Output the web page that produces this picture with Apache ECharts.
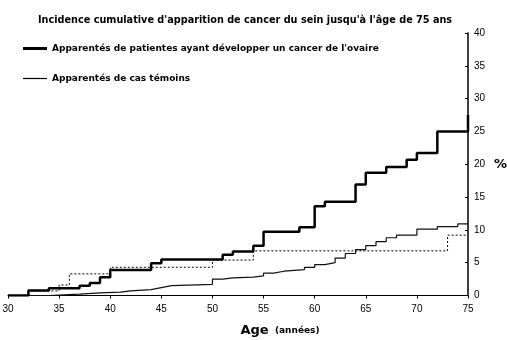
<!DOCTYPE html>
<html>
<head>
<meta charset="utf-8">
<script src="https://cdn.jsdelivr.net/npm/echarts@6/dist/echarts.min.js"></script>
<style>html,body{margin:0;padding:0;background:#fff;}#c{width:507px;height:340px;}</style>
</head>
<body>
<div id="c"></div>
<script>
var titleText = "Incidence cumulative d'apparition de cancer du sein jusqu'à l'âge de 75 ans";
var seriesNames = ["Apparentés de patientes ayant développer un cancer de l'ovaire", "Apparentés de cas témoins", "Référence"];
var xTicks = [30, 35, 40, 45, 50, 55, 60, 65, 70, 75];
var yTicks = [0, 5, 10, 15, 20, 25, 30, 35, 40];
// [age, cumulative incidence % from that age]
var ovaryRelatives = [[30,0],[32,0.75],[34,1.1],[37,1.5],[38,1.9],[39,2.8],[40,3.9],[44,4.9],[45,5.5],[51,6.2],[52,6.7],[54,7.6],[55,9.7],[58.5,10.4],[60,13.6],[61,14.3],[64,16.9],[65,18.7],[67,19.6],[69,20.7],[70,21.7],[72,25],[75,25],[75,27.5]];
var controlRelatives = [[30,0],[34,0.2],[37,0.4],[39,0.5],[41,0.7],[42,0.9],[44,1.2],[45,1.5],[46,1.7],[50,2.5],[51,2.7],[52,2.8],[54,3.0],[55,3.4],[56,3.7],[57,3.95],[59,4.3],[60,4.7],[61,5.0],[62,5.7],[63,6.4],[64,7.0],[65,7.6],[66,8.2],[67,8.8],[68,9.2],[70,10.1],[72,10.5],[74,10.9],[75,10.9]];
var dottedSeries = [[30,0],[32,0.7],[35,1.6],[36,3.3],[40,4.3],[50,5.4],[54,6.8],[73,9.2],[75,9.2]];

var chart = echarts.init(document.getElementById('c'), null, {renderer:'canvas'});
var baseFont = 'Liberation Sans, Arial, sans-serif';
var boldFont = 'DejaVu Sans, Verdana, sans-serif';
chart.setOption({
  animation: false,
  backgroundColor: '#fff',
  title: {
    text: titleText, left: 33, top: 10,
    textStyle: {fontFamily: boldFont, fontSize: 9.7, fontWeight: 'bold', color: '#000'}
  },
  legend: [
    {data: [seriesNames[0]], left: 18, top: 39, itemWidth: 24, itemHeight: 3, icon: 'rect',
     itemStyle: {color: '#000'},
     textStyle: {fontFamily: boldFont, fontSize: 9, fontWeight: 'bold', color: '#000', padding: [0,0,0,0]}},
    {data: [seriesNames[1]], left: 18, top: 69, itemWidth: 24, itemHeight: 1.2, icon: 'rect',
     itemStyle: {color: '#000'},
     textStyle: {fontFamily: boldFont, fontSize: 9, fontWeight: 'bold', color: '#000', padding: [0,0,0,0]}}
  ],
  grid: {left: 8, right: 39, top: 33, bottom: 44.5, containLabel: false, outerBoundsMode: 'none'},
  xAxis: {
    type: 'value', min: xTicks[0], max: xTicks[xTicks.length-1], interval: 5,
    axisLine: {show: true, lineStyle: {color: '#000', width: 1}},
    axisTick: {show: true, length: 3, lineStyle: {color: '#000'}},
    axisLabel: {fontFamily: baseFont, fontSize: 10, color: '#000', margin: 9},
    splitLine: {show: false},
    name: '{a|Age}{b|  (années)}', nameLocation: 'middle', nameGap: 29,
    nameTextStyle: {padding: [0,0,0,84], rich: {
      a: {fontFamily: boldFont, fontSize: 13, fontWeight: 'bold', color: '#000'},
      b: {fontFamily: boldFont, fontSize: 9, fontWeight: 'bold', color: '#000'}
    }}
  },
  yAxis: {
    type: 'value', position: 'right', min: yTicks[0], max: yTicks[yTicks.length-1], interval: 5,
    axisLine: {show: true, lineStyle: {color: '#000', width: 1.5}},
    axisTick: {show: true, inside: true, length: 3, lineStyle: {color: '#000'}},
    axisLabel: {fontFamily: baseFont, fontSize: 10, color: '#000', margin: 6},
    splitLine: {show: false},
    name: '%', nameLocation: 'middle', nameRotate: 0, nameGap: 26,
    nameTextStyle: {fontFamily: boldFont, fontSize: 13, fontWeight: 'bold', color: '#000', align: 'left'}
  },
  series: [
    {name: seriesNames[0], type: 'line', step: 'end', data: ovaryRelatives, symbol: 'none',
     lineStyle: {color: '#000', width: 2.5}, itemStyle: {color: '#000'}, z: 3},
    {name: seriesNames[1], type: 'line', step: 'end', data: controlRelatives, symbol: 'none',
     lineStyle: {color: '#111', width: 1.2}, itemStyle: {color: '#000'}, z: 2},
    {name: seriesNames[2], type: 'line', step: 'end', data: dottedSeries, symbol: 'none',
     lineStyle: {color: '#000', width: 1, type: [2, 2]}, itemStyle: {color: '#000'}, z: 1}
  ]
});
</script>
</body>
</html>
